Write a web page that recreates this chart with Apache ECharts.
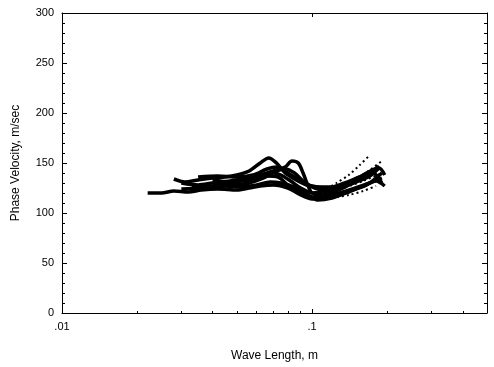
<!DOCTYPE html>
<html><head><meta charset="utf-8">
<script src="https://cdn.jsdelivr.net/npm/echarts@6/dist/echarts.min.js"></script>
<style>html,body{margin:0;padding:0;background:#fff}#c{width:494px;height:367px}</style>
</head><body><div id="c"></div>
<script>
// Wave length (m) and phase velocity (m/sec) for each measured curve
const c1L=[0.022,0.025,0.028,0.032,0.036,0.042,0.05,0.056,0.062,0.07,0.08,0.09,0.1,0.11,0.125,0.145,0.17,0.19];
const c1V=[120,120,122,121,123,124,123,125,127,128,125,118,114,115,119,124,130,135];
const c2L=[0.028,0.031,0.035,0.04,0.045,0.05,0.056,0.062,0.067,0.072,0.078,0.085,0.095,0.105,0.12,0.14,0.16,0.18];
const c2V=[134,131,133,135,136,138,142,150,155,150,140,134,128,126,126,130,138,142];
const c3L=[0.03,0.035,0.04,0.047,0.055,0.062,0.07,0.078,0.083,0.088,0.092,0.096,0.1,0.11,0.125,0.145,0.165,0.185,0.195];
const c3V=[130,128,130,132,135,138,142,146,152,150,140,128,120,118,122,130,140,145,138];
const c4L=[0.033,0.04,0.048,0.056,0.064,0.07,0.075,0.082,0.09,0.1,0.115,0.13,0.15,0.17,0.185];
const c4V=[127,126,128,130,135,140,138,132,125,120,122,126,132,140,147];
const c5L=[0.035,0.042,0.05,0.058,0.066,0.072,0.08,0.09,0.1,0.115,0.135,0.155,0.175,0.19];
const c5V=[136,137,136,138,144,146,140,132,127,125,130,136,140,130];
const c6L=[0.038,0.045,0.052,0.06,0.068,0.075,0.085,0.095,0.105,0.12,0.14,0.16,0.18,0.195];
const c6V=[125,127,126,128,131,130,126,119,113,115,121,127,132,127];
const c7L=[0.03,0.036,0.044,0.052,0.06,0.066,0.073,0.08,0.088,0.1,0.12,0.14,0.165,0.19];
const c7V=[124,125,129,132,134,137,136,128,122,116,118,122,128,140];
const c8L=[0.04,0.047,0.054,0.062,0.07,0.078,0.085,0.092,0.1,0.11,0.13,0.15,0.17,0.185];
const c8V=[133,131,133,136,141,144,140,132,126,123,126,131,137,145];
// dotted extensions
const d1L=[0.11,0.125,0.14,0.155,0.17];
const d1V=[122,130,138,148,158];
const d2L=[0.115,0.13,0.15,0.17,0.19];
const d2V=[120,126,134,143,152];
const d3L=[0.12,0.14,0.16,0.18];
const d3V=[115,118,122,127];
const d4L=[0.13,0.16,0.19];
const d4V=[124,132,140];
const xTickLabels={0.01:'.01',0.1:'.1'};
const yTicks=[0,50,100,150,200,250,300];

const solid=[[c1L,c1V],[c2L,c2V],[c3L,c3V],[c4L,c4V],[c5L,c5V],[c6L,c6V],[c7L,c7V],[c8L,c8V]];
const dotted=[[d1L,d1V],[d2L,d2V],[d3L,d3V],[d4L,d4V]];
const zip=(L,V)=>L.map((x,i)=>[x,V[i]]);
const series=[];
solid.forEach(([L,V])=>series.push({type:'line',xAxisIndex:0,yAxisIndex:0,data:zip(L,V),smooth:0.3,showSymbol:false,lineStyle:{color:'#000',width:3.5},silent:true}));
dotted.forEach(([L,V])=>series.push({type:'line',xAxisIndex:0,yAxisIndex:0,data:zip(L,V),smooth:0.3,showSymbol:false,lineStyle:{color:'#000',width:2,type:[2,3]},silent:true}));

const font='Liberation Sans, Arial, sans-serif';
const axLine={show:true,onZero:false,lineStyle:{color:'#000',width:1}};
const chart=echarts.init(document.getElementById('c'),null,{renderer:'canvas'});
chart.setOption({
  animation:false,
  grid:{left:62,top:13,right:7,bottom:51,containLabel:false},
  xAxis:[{
    type:'log',logBase:10,min:0.01,max:0.5,position:'bottom',
    name:'Wave Length, m',nameLocation:'middle',nameGap:37,
    nameTextStyle:{fontFamily:font,fontSize:12,color:'#000'},
    axisLine:axLine,
    axisTick:{show:true,inside:true,length:4,lineStyle:{color:'#000'}},
    minorTick:{show:true,splitNumber:9,length:2,lineStyle:{color:'#000'}},
    axisLabel:{fontFamily:font,fontSize:11,color:'#000',margin:8,
      formatter:v=>{for(const k in xTickLabels){if(Math.abs(v-Number(k))<1e-9)return xTickLabels[k];}return '';}},
    splitLine:{show:false}
  },{
    type:'log',logBase:10,min:0.01,max:0.5,position:'top',
    axisLine:axLine,axisTick:{show:true,inside:true,length:4,lineStyle:{color:'#000'}},
    axisLabel:{show:false},splitLine:{show:false}
  }],
  yAxis:[{
    type:'value',min:0,max:300,interval:50,position:'left',
    name:'Phase Velocity, m/sec',nameLocation:'middle',nameGap:40,
    nameTextStyle:{fontFamily:font,fontSize:12,color:'#000'},
    axisLine:axLine,
    axisTick:{show:true,inside:true,length:5,lineStyle:{color:'#000'}},
    minorTick:{show:true,splitNumber:5,length:3,lineStyle:{color:'#000'}},
    axisLabel:{fontFamily:font,fontSize:11,color:'#000',margin:8,
      formatter:v=>yTicks.includes(v)?String(v):''},
    splitLine:{show:false}
  },{
    type:'value',min:0,max:300,interval:50,position:'right',
    axisLine:axLine,
    axisTick:{show:true,inside:true,length:5,lineStyle:{color:'#000'}},
    minorTick:{show:true,splitNumber:5,length:3,lineStyle:{color:'#000'}},
    axisLabel:{show:false},splitLine:{show:false}
  }],
  series:series
});
</script></body></html>
